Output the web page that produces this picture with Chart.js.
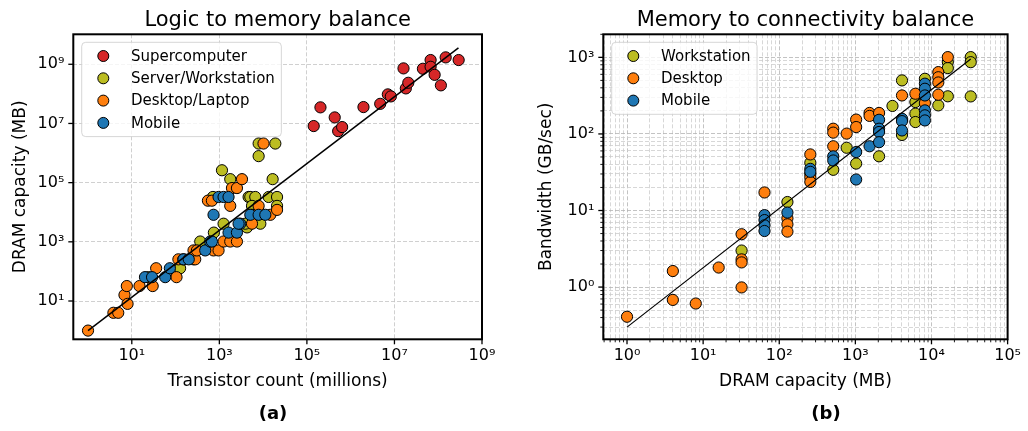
<!DOCTYPE html>
<html><head><meta charset="utf-8">
<script src="https://cdn.jsdelivr.net/npm/chart.js@4.4.1/dist/chart.umd.min.js"></script>
<style>
html,body{margin:0;padding:0;background:#fff;}
#wrap{position:relative;width:1028px;height:431px;overflow:hidden;}
canvas{position:absolute;top:0;}
</style></head><body>
<div id="wrap">
<canvas id="a" width="514" height="431" style="left:0"></canvas>
<canvas id="b" width="514" height="431" style="left:514px"></canvas>
</div>
<script>
// ---------- (a) Logic to memory balance : transistor count (millions) vs DRAM (MB) ----------
const superX = [1.43e5, 2.04e5, 4.32e5, 5.18e5, 6.38e5, 1.96e6, 4.73e6, 7.06e6, 8.28e6, 1.61e7, 1.82e7, 2.07e7, 4.47e7, 6.7e7, 6.7e7, 8.28e7, 1.15e8, 1.48e8, 2.93e8];
const superY = [8.17e6, 3.5e7, 1.6e7, 5.5e6, 7.55e6, 3.58e7, 4.6e7, 9.6e7, 8.2e7, 7.26e8, 1.53e8, 2.37e8, 7.05e8, 1.39e9, 8.24e8, 4.4e8, 1.94e8, 1.71e9, 1.39e9];
const serverX = [24, 127, 257, 366, 750, 1248, 4285, 3917, 8630, 714, 4660, 5095, 6622, 13370, 20800, 5570, 20800, 1774, 16500, 1148, 7900, 19000, 7900];
const serverY = [64, 128, 256, 1024, 2048, 4096, 3072, 4096, 4096, 32768, 32768, 32768, 32768, 32768, 32768, 16384, 16384, 131072, 131072, 262144, 2097152, 2097152, 786432];
const desktopX = [1, 3.8, 4.9, 6.8, 7.7, 8, 15, 30, 36, 105, 116, 150, 281, 257, 307, 736, 959, 1248, 1774, 2523, 548, 676, 1774, 5570, 7890, 14620, 20800, 1940, 2523, 3290, 10200, 5570];
const desktopY = [1, 4, 4, 16, 32, 8, 32, 32, 128, 64, 256, 256, 256, 512, 512, 512, 512, 1024, 1024, 1024, 24576, 24576, 16384, 8192, 16384, 8192, 12000, 65536, 65536, 131072, 2097152, 4096];
const mobileX = [20, 29, 58, 74, 152, 200, 476, 619, 676, 1622, 2523, 3006, 2750, 736, 5095, 7890, 11220, 959, 1248, 1622];
const mobileY = [64, 64, 64, 128, 256, 256, 512, 1024, 1024, 2048, 2048, 4096, 4096, 8192, 8192, 8192, 8192, 32768, 32768, 32768];
const fitAX = [1, 2.9e8];
const fitAY = [1, 3.6e9];
const ticksA = [1e1, 1e3, 1e5, 1e7, 1e9];

// ---------- (b) Memory to connectivity balance : DRAM (MB) vs bandwidth (GB/s) ----------
const wsX = [32, 128, 256, 256, 512, 768, 1024, 2048, 3072, 4096, 4096, 6144, 6144, 6144, 8192, 12288, 16384, 16384, 16384, 32768, 32768, 32768];
const wsY = [3.0, 12.9, 42, 30, 34, 66, 41, 51, 232, 500, 97, 261, 184, 143, 525, 236, 870, 725, 310, 1007, 865, 309];
const dtX = [1, 4, 4, 8, 16, 32, 32, 32, 32, 64, 128, 128, 128, 256, 256, 256, 512, 512, 512, 768, 1024, 1024, 1536, 1536, 2048, 4096, 6144, 8192, 12288, 12288, 12288, 12288, 16384];
const dtY = [0.41, 1.62, 0.68, 0.61, 1.8, 4.9, 2.3, 2.1, 0.99, 17.2, 7.9, 6.6, 5.3, 54, 27, 23.6, 117, 104, 69, 101, 154, 123, 188, 172, 188, 318, 335, 253, 642, 550, 470, 325, 1007];
const mbX = [64, 64, 64, 64, 128, 256, 256, 512, 512, 1024, 1024, 1536, 2048, 2048, 2048, 2048, 4096, 4096, 4096, 8192, 8192, 8192, 8192, 8192, 8192];
const mbY = [8.7, 7.5, 6.4, 5.4, 9.4, 35, 32, 51, 45, 58, 25.4, 69, 153, 117, 106, 78, 158, 147, 111, 453, 389, 318, 203, 175, 150];
const fitBX = [1, 32768];
const fitBY = [0.30, 950];
const decadesBX = [0.1, 1, 10, 100, 1e3, 1e4, 1e5];
const decadesBY = [0.1, 1, 10, 100, 1e3];

// ---------- helpers ----------
Chart.defaults.font.family = "'DejaVu Sans', sans-serif";
Chart.defaults.color = '#000';
const SUP = {'0':'\u2070','1':'\u00B9','2':'\u00B2','3':'\u00B3','4':'\u2074','5':'\u2075','6':'\u2076','7':'\u2077','8':'\u2078','9':'\u2079','-':'\u207B'};
const isDecade = v => { const l = Math.log10(v); return Math.abs(l - Math.round(l)) < 1e-6; };
const decLabel = v => isDecade(v) ? '10' + String(Math.round(Math.log10(v))).split('').map(c => SUP[c]).join('') : '';
const pts = (xs, ys) => xs.map((x, i) => ({x, y: ys[i]}));
const withMinors = (decades, min, max) => {
  const out = [];
  decades.forEach(d => { for (let m = 1; m < 10; m++) { const v = d * m; if (v >= min * 0.9999 && v <= max * 1.0001) out.push(v); } });
  return out;
};

const decor = {
  id: 'decor',
  afterDraw(chart, args, o) {
    const {ctx, chartArea: ca} = chart;
    ctx.save();
    ctx.strokeStyle = '#000';
    ['x', 'y'].forEach(id => {
      const s = chart.scales[id];
      s.ticks.forEach(t => {
        const major = isDecade(t.value);
        const len = major ? 5 : 3;
        ctx.lineWidth = major ? 1.3 : 0.9;
        const p = s.getPixelForValue(t.value);
        ctx.beginPath();
        if (id === 'x') { ctx.moveTo(p, ca.bottom); ctx.lineTo(p, ca.bottom + len); }
        else { ctx.moveTo(ca.left, p); ctx.lineTo(ca.left - len, p); }
        ctx.stroke();
      });
    });
    ctx.lineWidth = 2;
    ctx.strokeRect(ca.left, ca.top, ca.width, ca.height);
    // legend inside the axes (upper left)
    const items = chart.data.datasets.filter(d => d.label);
    ctx.font = '15px "DejaVu Sans"';
    const tw = Math.max(...items.map(d => ctx.measureText(d.label).width));
    const bx = ca.left + 8.4, by = ca.top + 8, row = 22.3;
    const bw = 49.3 + tw + 6.5, bh = 27.4 + row * (items.length - 1);
    ctx.beginPath();
    ctx.roundRect(bx, by, bw, bh, 4);
    ctx.fillStyle = 'rgba(255,255,255,0.8)';
    ctx.fill();
    ctx.lineWidth = 1;
    ctx.strokeStyle = 'rgba(204,204,204,0.8)';
    ctx.stroke();
    items.forEach((d, i) => {
      const y = by + 13.7 + i * row;
      ctx.beginPath();
      ctx.arc(bx + 21.6, y, 5.5, 0, Math.PI * 2);
      ctx.fillStyle = d.backgroundColor;
      ctx.fill();
      ctx.strokeStyle = '#000';
      ctx.lineWidth = 1;
      ctx.stroke();
      ctx.fillStyle = '#000';
      ctx.textBaseline = 'middle';
      ctx.textAlign = 'left';
      ctx.fillText(d.label, bx + 49.3, y + 1);
    });
    ctx.font = 'bold 18px "DejaVu Sans"';
    ctx.textAlign = 'center';
    ctx.textBaseline = 'middle';
    ctx.fillStyle = '#000';
    ctx.fillText(o.tag, o.tagX, 414);
    ctx.restore();
  }
};

const pointDs = (label, xs, ys, color, order) => ({
  label, data: pts(xs, ys), backgroundColor: color, borderColor: '#000',
  borderWidth: 1, pointRadius: 5.6, pointHoverRadius: 5.6, order
});
const fitDs = (xs, ys, w) => ({
  data: pts(xs, ys), showLine: true, borderColor: '#000', borderWidth: w,
  pointRadius: 0, pointHoverRadius: 0, backgroundColor: '#000', order: 0
});

function axis(opts) {
  return {
    type: 'logarithmic', min: opts.min, max: opts.max,
    afterBuildTicks: s => { s.ticks = opts.ticks.map(v => ({value: v})); },
    afterFit: opts.fit,
    ticks: {callback: v => decLabel(v), autoSkip: false, maxRotation: 0, minRotation: 0, padding: opts.pad, font: {size: 16}, color: '#000'},
    grid: {drawTicks: false, color: opts.gridColor, lineWidth: 0.8},
    border: {display: false, dash: [4, 2]},
    title: {display: true, text: opts.title, font: {size: 17}, color: '#000', padding: opts.tpad}
  };
}

const common = (titleText, padRight, tag, tagX) => ({
  responsive: false, animation: false, events: [],
  layout: {padding: {left: 0, right: padRight, top: 0, bottom: 0}},
  plugins: {
    legend: {display: false}, tooltip: {enabled: false},
    title: {display: true, text: titleText, fullSize: false, font: {size: 21, weight: 'normal'}, color: '#000', padding: {top: 8, bottom: 1.1}},
    decor: {tag, tagX}
  }
});

// ---------- chart (a) ----------
const optA = common('Logic to memory balance', 32, '(a)', 273);
optA.scales = {
  x: axis({min: 0.461, max: 1e9, ticks: ticksA, fit: s => { s.height = 91.7; }, pad: 7, gridColor: '#c4c4c4',
           title: 'Transistor count (millions)', tpad: {top: 0, bottom: 38.8}}),
  y: axis({min: 0.508, max: 1.03e10, ticks: ticksA, fit: s => { s.width = 73.3; }, pad: 9, gridColor: '#c4c4c4',
           title: 'DRAM capacity (MB)', tpad: {top: 10.8, bottom: 0}})
};
new Chart(document.getElementById('a'), {
  type: 'scatter',
  data: {datasets: [
    pointDs('Supercomputer', superX, superY, '#d62728', 4),
    pointDs('Server/Workstation', serverX, serverY, '#bcbd22', 3),
    pointDs('Desktop/Laptop', desktopX, desktopY, '#ff7f0e', 2),
    pointDs('Mobile', mobileX, mobileY, '#1f77b4', 1),
    fitDs(fitAX, fitAY, 1.5)
  ]},
  options: optA,
  plugins: [decor]
});

// ---------- chart (b) ----------
const bxMin = 0.488, bxMax = 1e5, byMin = 0.208, byMax = 2000;
const gridB = ctx => (ctx.tick && isDecade(ctx.tick.value)) ? '#b4b4b4' : '#cdcdcd';
const optB = common('Memory to connectivity balance', 16, '(b)', 312);
optB.scales = {
  x: axis({min: bxMin, max: bxMax, ticks: withMinors(decadesBX, bxMin, bxMax), fit: s => { s.height = 91.7; }, pad: 7, gridColor: gridB,
           title: 'DRAM capacity (MB)', tpad: {top: 0, bottom: 38.8}}),
  y: axis({min: byMin, max: byMax, ticks: withMinors(decadesBY, byMin, byMax), fit: s => { s.width = 89.3; }, pad: 9, gridColor: gridB,
           title: 'Bandwidth (GB/sec)', tpad: {top: 22.8, bottom: 0}})
};
new Chart(document.getElementById('b'), {
  type: 'scatter',
  data: {datasets: [
    pointDs('Workstation', wsX, wsY, '#bcbd22', 3),
    pointDs('Desktop', dtX, dtY, '#ff7f0e', 2),
    pointDs('Mobile', mbX, mbY, '#1f77b4', 1),
    fitDs(fitBX, fitBY, 1.2)
  ]},
  options: optB,
  plugins: [decor]
});
</script>
</body></html>
